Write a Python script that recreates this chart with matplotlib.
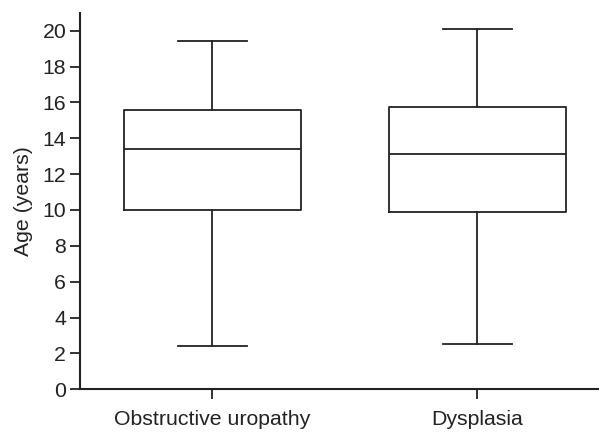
import matplotlib
matplotlib.use("Agg")
import matplotlib.pyplot as plt

groups = ["Obstructive uropathy", "Dysplasia"]
whisker_low = [2.4, 2.5]
q1 = [10.0, 9.87]
median = [13.41, 13.1]
q3 = [15.6, 15.73]
whisker_high = [19.4, 20.1]

plt.rcParams["font.family"] = ["Liberation Sans", "DejaVu Sans"]
ink = "#222222"

stats = []
for i, name in enumerate(groups):
    stats.append({
        "label": name, "whislo": whisker_low[i], "q1": q1[i], "med": median[i],
        "q3": q3[i], "whishi": whisker_high[i], "fliers": [],
    })

fig = plt.figure(figsize=(5.99, 4.32), dpi=100)
ax = fig.add_axes([0.1336, 0.0988, 0.8664, 0.8718])
line = dict(color=ink, linewidth=1.3)
ax.bxp(stats, positions=[1, 2], widths=0.668, capwidths=0.26, showfliers=False,
       boxprops=line, whiskerprops=line, capprops=line, medianprops=line)

ax.set_xlim(0.5, 2.46)
ax.set_ylim(0, 21)
ax.set_yticks(range(0, 21, 2))
ax.set_ylabel("Age (years)", fontsize=15.3, color=ink, labelpad=7)
for side in ["top", "right"]:
    ax.spines[side].set_visible(False)
for side in ["left", "bottom"]:
    ax.spines[side].set_linewidth(1.5)
    ax.spines[side].set_color(ink)
ax.tick_params(axis="both", length=7, width=1.3, color=ink, labelsize=15.3,
               labelcolor=ink, pad=3)
ax.tick_params(axis="x", pad=8)

fig.savefig("out.png", dpi=100)
plt.close(fig)
